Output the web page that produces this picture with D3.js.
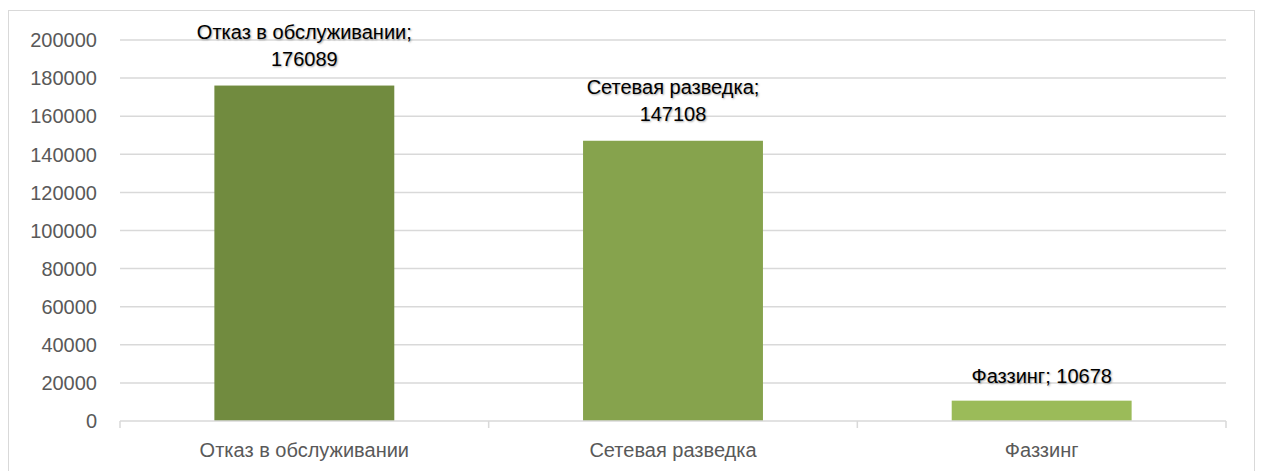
<!DOCTYPE html>
<html><head><meta charset="utf-8">
<script src="https://cdn.jsdelivr.net/npm/d3@7"></script>
<style>
html,body{margin:0;padding:0;background:#fff;}
svg text{font-family:"Liberation Sans","Noto Sans",sans-serif;}
.dl{text-shadow:1px 1px 2px rgba(0,0,0,0.35);}
</style></head>
<body><svg id="c" width="1261" height="471"></svg>
<script>
const categories = ["Отказ в обслуживании", "Сетевая разведка", "Фаззинг"];
const values = [176089, 147108, 10678];
const barColors = ["#718B3F", "#86A34D", "#9BBB59"];
const yTicks = [0, 20000, 40000, 60000, 80000, 100000, 120000, 140000, 160000, 180000, 200000];

(function () {
const svg = d3.select("#c");
svg.append("rect").attr("x", 8.5).attr("y", 10.5).attr("width", 1246).attr("height", 470)
  .attr("fill", "#fff").attr("stroke", "#d9d9d9").attr("stroke-width", 1);

const pL = 120, pR = 1226, pT = 40, pB = 421;
const x = d3.scaleBand().domain(categories).range([pL, pR]).paddingInner(0.512).paddingOuter(0.256);
const xb = d3.scaleBand().domain(categories).range([pL, pR]).padding(0);
const y = d3.scaleLinear().domain([0, 200000]).range([pB, pT]);

svg.append("g").selectAll("line").data(yTicks.filter(d => d > 0)).join("line")
  .attr("x1", pL).attr("x2", pR)
  .attr("y1", d => y(d)).attr("y2", d => y(d))
  .attr("stroke", "#d9d9d9").attr("stroke-width", 1.5);

svg.append("g").selectAll("text").data(yTicks).join("text")
  .attr("x", 97).attr("y", d => y(d)).attr("dy", "0.36em")
  .attr("text-anchor", "end").attr("font-size", 20).attr("fill", "#595959")
  .text(d => d);

svg.append("g").selectAll("rect").data(values).join("rect")
  .attr("x", (d, i) => x(categories[i])).attr("width", x.bandwidth())
  .attr("y", d => y(d)).attr("height", d => y(0) - y(d))
  .attr("fill", (d, i) => barColors[i]);

svg.append("line").attr("x1", pL).attr("x2", pR).attr("y1", pB).attr("y2", pB)
  .attr("stroke", "#d9d9d9").attr("stroke-width", 1.5);
const bounds = categories.map(c => xb(c)).concat([pR]);
svg.append("g").selectAll("line").data(bounds).join("line")
  .attr("x1", d => d).attr("x2", d => d).attr("y1", pB).attr("y2", pB + 7)
  .attr("stroke", "#d9d9d9").attr("stroke-width", 1.5);

svg.append("g").selectAll("text").data(categories).join("text")
  .attr("x", d => xb(d) + xb.bandwidth() / 2).attr("y", 457)
  .attr("text-anchor", "middle").attr("font-size", 20).attr("fill", "#595959")
  .text(d => d);

const lab = svg.append("g");
values.forEach((v, i) => {
  const cx = x(categories[i]) + x.bandwidth() / 2;
  const by = y(v) - 20;
  if (i < 2) {
    lab.append("text").attr("class", "dl").attr("x", cx).attr("y", by - 27)
      .attr("text-anchor", "middle").attr("font-size", 20).attr("fill", "#000")
      .text(categories[i] + ";");
    lab.append("text").attr("class", "dl").attr("x", cx).attr("y", by)
      .attr("text-anchor", "middle").attr("font-size", 20).attr("fill", "#000")
      .text(v);
  } else {
    lab.append("text").attr("class", "dl").attr("x", cx).attr("y", by + 2)
      .attr("text-anchor", "middle").attr("font-size", 20).attr("fill", "#000")
      .text(categories[i] + "; " + v);
  }
});
})();
</script></body></html>
